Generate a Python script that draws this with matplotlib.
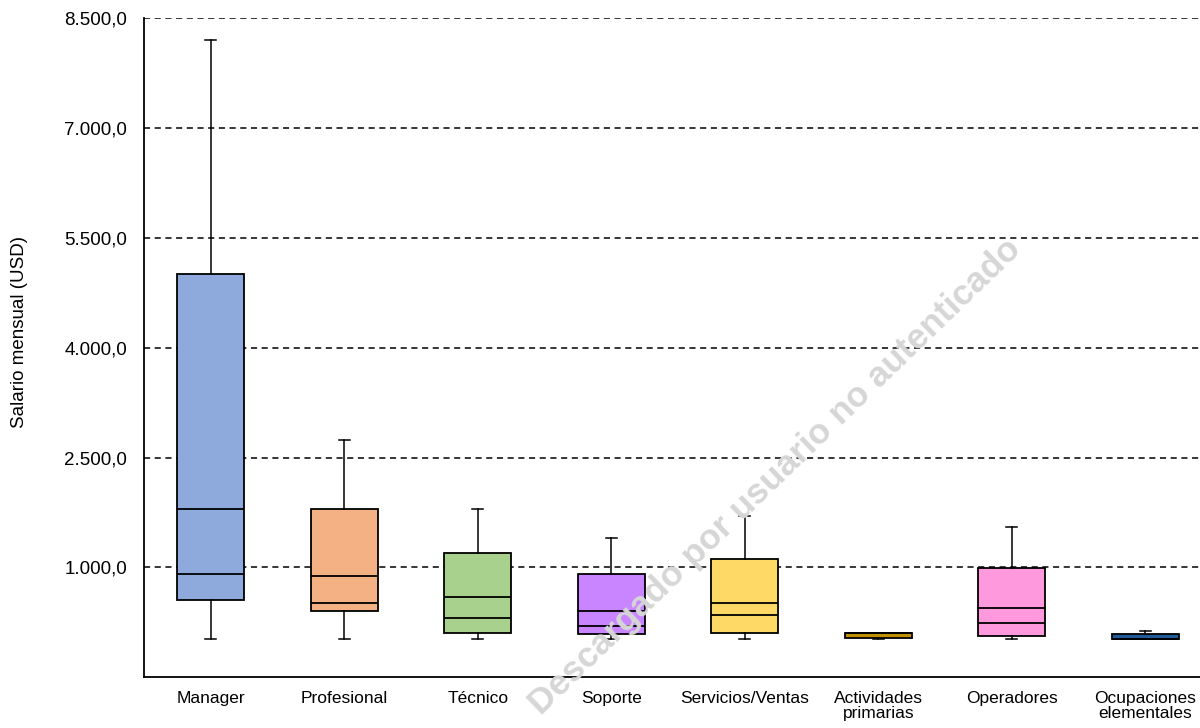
import matplotlib
matplotlib.use("Agg")
import matplotlib.pyplot as plt

plt.rcParams['font.family'] = ['Liberation Sans', 'DejaVu Sans']

categories = ["Manager", "Profesional", "Técnico", "Soporte", "Servicios/Ventas",
              "Actividades\nprimarias", "Operadores", "Ocupaciones\nelementales"]
minimo = [24, 24, 24, 24, 24, 24, 24, 20]
inferior = [559, 401, 110, 88, 110, 42, 65, 20]
linea_baja = [909, 514, 314, 205, 355, 100, 246, 25]
linea_alta = [1793, 886, 600, 401, 510, 105, 446, 30]
superior = [5005, 1793, 1199, 905, 1109, 110, 995, 92]
maximo = [8194, 2733, 1793, 1399, 1708, 110, 1548, 133]
colores = ["#8EA9DB", "#F4B183", "#A9D18E", "#C985FF", "#FFD966",
           "#C09000", "#FF99DD", "#1F5C99"]

yticks = [1000, 2500, 4000, 5500, 7000, 8500]

fig = plt.figure(figsize=(12, 7.28), dpi=100)
ax = fig.add_axes([0.12, 0.0696, 0.89, 0.9057])

for y in yticks:
    ax.axhline(y, color="black", lw=1.1, dashes=(4, 3), zorder=0)

stats = []
for i in range(len(categories)):
    stats.append({"whislo": minimo[i], "q1": inferior[i], "med": linea_alta[i],
                  "mean": linea_baja[i], "q3": superior[i], "whishi": maximo[i]})

bp = ax.bxp(stats, positions=range(len(categories)), widths=0.5, capwidths=0.08,
            patch_artist=True, showfliers=False, showmeans=True, meanline=True,
            boxprops=dict(edgecolor="black", linewidth=1.3),
            medianprops=dict(color="black", linewidth=1.3),
            meanprops=dict(color="black", linewidth=1.3, linestyle="-"),
            whiskerprops=dict(color="black", linewidth=1.1),
            capprops=dict(color="black", linewidth=1.1))
for patch, c in zip(bp["boxes"], colores):
    patch.set_facecolor(c)

ax.set_xlim(-0.5, len(categories) - 0.5)
ax.set_ylim(-500, 8500)
ax.set_yticks(yticks)
ax.set_yticklabels(["{:,.1f}".format(v).replace(",", "X").replace(".", ",").replace("X", ".")
                    for v in yticks])
ax.set_xticks(range(len(categories)))
ax.set_xticklabels(categories, fontsize=12.5, linespacing=1.0)
ax.tick_params(axis="y", length=0, pad=12, labelsize=13.5)
ax.tick_params(axis="x", length=0, pad=10)

ax.spines["top"].set_visible(False)
ax.spines["right"].set_visible(False)
ax.spines["left"].set_linewidth(1.3)
ax.spines["bottom"].set_linewidth(1.3)

fig.text(0.016, 1 - 332 / 728, "Salario mensual (USD)", rotation=90,
         fontsize=13.5, ha="center", va="center")

fig.text(0.646, 0.345, "Descargado por usuario no autenticado", rotation=44,
         fontsize=25.5, fontweight="bold", color="#D6D6D6", ha="center", va="center",
         zorder=10)

fig.savefig("out.png", dpi=100)
